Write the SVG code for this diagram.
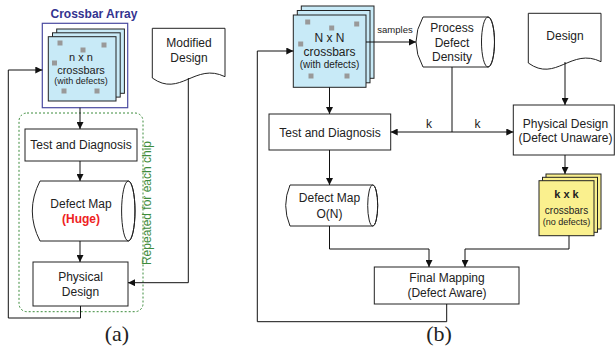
<svg xmlns="http://www.w3.org/2000/svg" width="616" height="349" viewBox="0 0 616 349">
<defs>
<marker id="ah" viewBox="0 0 10 10" refX="10" refY="5" markerWidth="8" markerHeight="7" markerUnits="userSpaceOnUse" orient="auto-start-reverse">
<path d="M0,0 L10,5 L0,10 z" fill="#111"/>
</marker>
</defs>
<style>
text{font-family:"Liberation Sans",Arial,sans-serif;fill:#222;text-anchor:middle}
.box{fill:#fff;stroke:#222;stroke-width:1}
.card{fill:#c8eaf7;stroke:#222;stroke-width:1}
.ycard{fill:#faf08e;stroke:#222;stroke-width:1}
.dot{fill:#999}
.ln{fill:none;stroke:#111;stroke-width:1}
.arr{fill:none;stroke:#111;stroke-width:1;marker-end:url(#ah)}
.t12{font-size:12px}
.t11{font-size:11px}
.t10{font-size:10px}
.t9{font-size:9px}
.lab{font-family:"Liberation Serif","Times New Roman",serif;font-size:22px}
</style>

<g id="crossbar-array-a">
<text x="94" y="18" style="font-size:12px;font-weight:bold;fill:#33338f">Crossbar Array</text>
<rect x="42.3" y="23.3" width="85.4" height="84.4" fill="#fff" stroke="#4a4aa0" stroke-width="1.2"/>
<rect class="card" x="56.7" y="29" width="67.7" height="64.3"/>
<rect class="card" x="52.5" y="32.8" width="67.7" height="64.3"/>
<rect class="card" x="48.3" y="36.7" width="67.7" height="64.3"/>
<rect class="dot" x="57.5" y="40.5" width="5" height="5"/>
<rect class="dot" x="80.5" y="47.5" width="5" height="5"/>
<rect class="dot" x="101.5" y="42.5" width="5" height="5"/>
<rect class="dot" x="52" y="60.5" width="5" height="5"/>
<rect class="dot" x="61.5" y="88.5" width="5" height="5"/>
<rect class="dot" x="94.5" y="88.5" width="5" height="5"/>
<text class="t11" x="81" y="61">n x n</text>
<text class="t11" x="81" y="74">crossbars</text>
<text class="t9" x="81" y="84">(with defects)</text>
</g>

<g id="repeat-region">
<rect x="19" y="113" width="124" height="198.7" rx="8" fill="none" stroke="#3c8c3c" stroke-width="1" stroke-dasharray="2,2"/>
<text transform="translate(151,203) rotate(-90)" style="font-size:12px;fill:#3c8c3c">Repeated for each chip</text>
</g>

<g id="test-a">
<rect class="box" x="25" y="129" width="112" height="32"/>
<text class="t12" x="81" y="149">Test and Diagnosis</text>
</g>

<g id="defectmap-a">
<path class="box" d="M40,181 H128.3 A6.7,30 0 0 1 128.3,241 H40 Q24.6,211 40,181 z"/>
<ellipse cx="128.3" cy="211" rx="6.7" ry="30" fill="none" stroke="#222" stroke-width="1"/>
<text class="t12" x="81" y="208">Defect Map</text>
<text x="81" y="223" style="font-size:12px;font-weight:bold;fill:#ee2222">(Huge)</text>
</g>

<g id="physdesign-a">
<rect class="box" x="33" y="262" width="95" height="44"/>
<text class="t12" x="80.5" y="281">Physical</text>
<text class="t12" x="80.5" y="296">Design</text>
</g>

<g id="modified-design">
<path class="box" d="M152.3,28.3 H225 V76.7 C195,62 180,98 152.3,78 z"/>
<text class="t12" x="189" y="47.3">Modified</text>
<text class="t12" x="189" y="61.7">Design</text>
</g>

<g id="crossbar-b">
<rect class="card" x="301.3" y="6" width="72.7" height="72.3"/>
<rect class="card" x="297.3" y="10.5" width="72.7" height="72.3"/>
<rect class="card" x="293.3" y="15" width="72.7" height="72.3"/>
<rect class="dot" x="305.2" y="19.5" width="5" height="5"/>
<rect class="dot" x="329.2" y="25.5" width="5" height="5"/>
<rect class="dot" x="354.2" y="21.5" width="5" height="5"/>
<rect class="dot" x="298.2" y="41.5" width="5" height="5"/>
<rect class="dot" x="308.5" y="73.5" width="5" height="5"/>
<rect class="dot" x="344.5" y="73.5" width="5" height="5"/>
<text class="t12" x="329.5" y="42.3">N x N</text>
<text class="t12" x="329.5" y="56">crossbars</text>
<text class="t10" x="329.5" y="68.3">(with defects)</text>
</g>

<g id="process-defect-density">
<path class="box" d="M423,17 H488 A6.5,25 0 0 1 488,67 H423 Q409,42 423,17 z"/>
<ellipse cx="488" cy="42" rx="6.5" ry="25" fill="none" stroke="#222" stroke-width="1"/>
<text class="t12" x="452" y="32.3">Process</text>
<text class="t12" x="452" y="46.7">Defect</text>
<text class="t12" x="452" y="61">Density</text>
</g>

<g id="design-b">
<path class="box" d="M528.3,13.3 H601 V61.7 C571,47 556,83 528.3,63 z"/>
<text class="t12" x="565" y="40">Design</text>
</g>

<g id="test-b">
<rect class="box" x="269" y="114" width="121.7" height="36"/>
<text class="t12" x="330" y="136.5">Test and Diagnosis</text>
</g>

<g id="physdesign-b">
<rect class="box" x="513.3" y="105" width="101" height="50"/>
<text class="t12" x="565.5" y="127.7">Physical Design</text>
<text class="t12" x="565.5" y="141.7">(Defect Unaware)</text>
</g>

<g id="defectmap-b">
<path class="box" d="M290,185 H372.7 A5,20.5 0 0 1 372.7,226 H290 Q281.4,205.5 290,185 z"/>
<ellipse cx="372.7" cy="205.5" rx="5" ry="20.5" fill="none" stroke="#222" stroke-width="1"/>
<text class="t12" x="329.5" y="201.7">Defect Map</text>
<text class="t12" x="329.5" y="217.7">O(N)</text>
</g>

<g id="kxk-crossbars">
<rect class="ycard" x="546" y="174" width="55" height="55"/>
<rect class="ycard" x="542.5" y="177.3" width="55" height="55"/>
<rect class="ycard" x="539" y="180.7" width="55" height="55"/>
<text x="566.5" y="198.3" style="font-size:11px;font-weight:bold">k x k</text>
<text class="t10" x="566.5" y="214.3">crossbars</text>
<text class="t9" x="566.5" y="225">(no defects)</text>
</g>

<g id="final-mapping">
<rect class="box" x="374.3" y="267" width="144.7" height="37"/>
<text class="t12" x="447" y="281.7">Final Mapping</text>
<text class="t12" x="447" y="297.3">(Defect Aware)</text>
</g>

<g id="connectors">
<path class="arr" d="M80,107.7 V129"/>
<path class="arr" d="M80,161 V181"/>
<path class="arr" d="M80,241 V262"/>
<path class="arr" d="M80.5,306 V318 H8.3 V70 H42.3"/>
<path class="arr" d="M188.3,78 V282.7 H128"/>
<path class="arr" d="M366,42 H416"/>
<path class="arr" d="M329.5,87.3 V114"/>
<path class="arr" d="M329.5,150 V185"/>
<path class="arr" d="M329.5,226 V249 H429 V267"/>
<path class="arr" d="M569,235.7 V249 H465 V267"/>
<path class="arr" d="M446.7,304 V321.7 H257.3 V51 H293.3"/>
<path class="ln" d="M452,67 V132"/>
<path class="arr" style="marker-start:url(#ah)" d="M390.7,132 H513.3"/>
<path class="arr" d="M565,62 V105"/>
<path class="arr" d="M565,155 V174"/>
<text x="395" y="33" style="font-size:9.5px">samples</text>
<text class="t12" x="429" y="128">k</text>
<text class="t12" x="477.5" y="128">k</text>
</g>

<g id="labels">
<text class="lab" x="117" y="341">(a)</text>
<text class="lab" x="439" y="341">(b)</text>
</g>
</svg>
